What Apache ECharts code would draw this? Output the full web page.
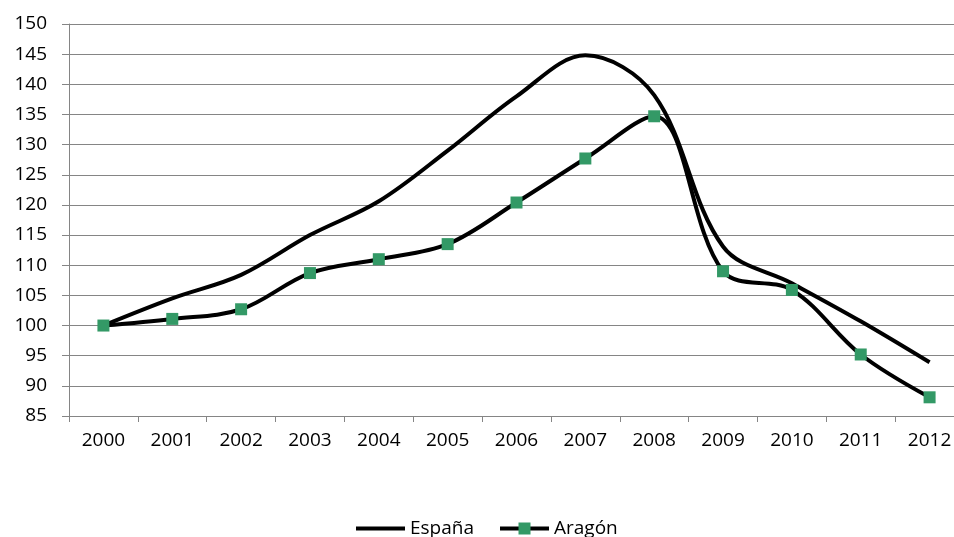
<!DOCTYPE html>
<html>
<head>
<meta charset="utf-8">
<script src="https://cdn.jsdelivr.net/npm/echarts@6/dist/echarts.min.js"></script>
<style>
html,body{margin:0;padding:0;background:#fff;}
#chart{width:954px;height:537px;}
</style>
</head>
<body>
<div id="chart"></div>
<script>
var years = ['2000','2001','2002','2003','2004','2005','2006','2007','2008','2009','2010','2011','2012'];
var espana = [100, 104.5, 108.4, 115, 120.6, 129, 138, 144.8, 138.2, 113.1, 107, 100.7, 93.9];
var aragon = [100, 101.1, 102.7, 108.7, 111.0, 113.5, 120.4, 127.7, 134.7, 109.0, 105.9, 95.2, 88.1];
var seriesNames = ['España', 'Aragón'];

var FONT = 'Open Sans';
var chart = echarts.init(document.getElementById('chart'), null, {renderer: 'canvas'});
chart.setOption({
  animation: false,
  backgroundColor: '#ffffff',
  grid: {left: 69, width: 895, top: 24, height: 392, containLabel: false, outerBoundsMode: 'none'},
  legend: {
    top: 514,
    left: 349,
    itemWidth: 49,
    itemHeight: 15,
    itemGap: 24,
    textStyle: {fontFamily: FONT, fontSize: 19, color: '#000'},
    data: [
      {name: seriesNames[0], itemStyle: {opacity: 0}, lineStyle: {color: '#000', width: 4, opacity: 1}},
      {name: seriesNames[1], lineStyle: {color: '#000', width: 4}}
    ]
  },
  xAxis: {
    type: 'category',
    data: years,
    boundaryGap: true,
    axisLine: {lineStyle: {color: '#858585', width: 1}},
    axisTick: {show: true, length: 6, lineStyle: {color: '#858585'}},
    axisLabel: {fontFamily: FONT, fontSize: 19, color: '#000', margin: 15},
    splitLine: {show: false}
  },
  yAxis: {
    type: 'value',
    min: 85,
    max: 150,
    interval: 5,
    axisLine: {show: true, lineStyle: {color: '#858585', width: 1}},
    axisTick: {show: true, length: 7, lineStyle: {color: '#858585'}},
    axisLabel: {fontFamily: FONT, fontSize: 19, color: '#000', margin: 22},
    splitLine: {show: true, lineStyle: {color: '#858585', width: 1}}
  },
  series: [
    {
      name: seriesNames[0],
      type: 'line',
      data: espana,
      smooth: 0.35,
      symbol: 'none',
      lineStyle: {color: '#000', width: 4},
      itemStyle: {color: '#000'}
    },
    {
      name: seriesNames[1],
      type: 'line',
      data: aragon,
      smooth: 0.35,
      symbol: 'rect',
      symbolSize: 12,
      showAllSymbol: true,
      lineStyle: {color: '#000', width: 4},
      itemStyle: {color: '#339966', borderWidth: 0}
    }
  ]
});
</script>
</body>
</html>
